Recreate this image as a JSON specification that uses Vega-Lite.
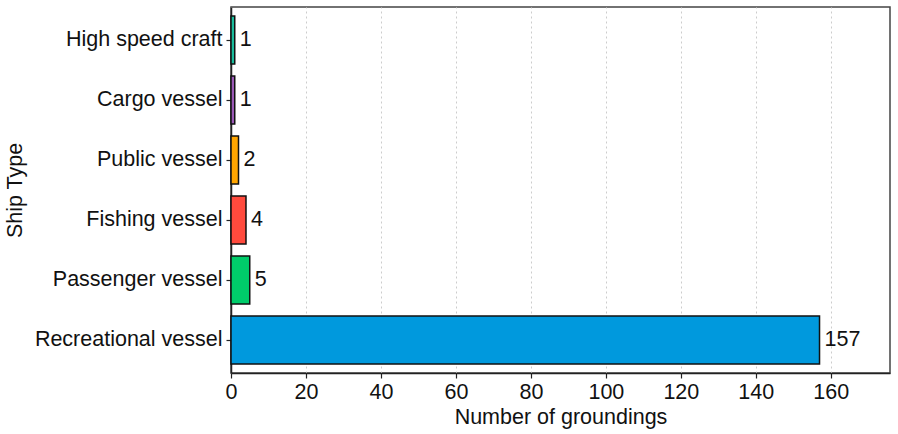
{
  "$schema": "https://vega.github.io/schema/vega-lite/v6.json",
  "width": 659,
  "height": 366,
  "autosize": "none",
  "padding": {"left": 231, "top": 7, "right": 8, "bottom": 61},
  "background": "white",
  "data": {
    "values": [
      {"ShipType": "High speed craft", "Groundings": 1},
      {"ShipType": "Cargo vessel", "Groundings": 1},
      {"ShipType": "Public vessel", "Groundings": 2},
      {"ShipType": "Fishing vessel", "Groundings": 4},
      {"ShipType": "Passenger vessel", "Groundings": 5},
      {"ShipType": "Recreational vessel", "Groundings": 157}
    ]
  },
  "encoding": {
    "y": {
      "field": "ShipType",
      "type": "nominal",
      "sort": null,
      "title": "Ship Type",
      "scale": {"paddingInner": 0.2, "paddingOuter": 0.15},
      "axis": {
        "labelFontSize": 21.5,
        "labelLimit": 300,
        "titleFontSize": 21.5,
        "titleFontWeight": "normal",
        "titlePadding": 8,
        "tickSize": 5,
        "labelPadding": 4,
        "ticks": true
      }
    },
    "x": {
      "field": "Groundings",
      "type": "quantitative",
      "title": "Number of groundings",
      "scale": {"domain": [0, 175.8], "nice": false},
      "axis": {
        "values": [0, 20, 40, 60, 80, 100, 120, 140, 160],
        "labelFontSize": 21.5,
        "titleFontSize": 21.5,
        "titleFontWeight": "normal",
        "titlePadding": 4,
        "tickSize": 5,
        "labelPadding": 3,
        "labelFlush": false,
        "grid": true,
        "gridDash": [2, 3],
        "gridColor": "#cccccc",
        "gridWidth": 1
      }
    }
  },
  "layer": [
    {
      "mark": {"type": "bar", "stroke": "#111111", "strokeWidth": 1.5},
      "encoding": {
        "color": {
          "field": "ShipType",
          "type": "nominal",
          "legend": null,
          "scale": {
            "domain": ["High speed craft", "Cargo vessel", "Public vessel", "Fishing vessel", "Passenger vessel", "Recreational vessel"],
            "range": ["#1abc9c", "#9b59b6", "#ffa500", "#ff4a3d", "#00cc6a", "#0099dd"]
          }
        }
      }
    },
    {
      "mark": {"type": "text", "align": "left", "baseline": "middle", "dx": 5, "fontSize": 21.5, "color": "#111111"},
      "encoding": {
        "text": {"field": "Groundings", "type": "quantitative"}
      }
    }
  ],
  "config": {
    "font": "Liberation Sans",
    "view": {"stroke": "#444444", "strokeWidth": 1.5},
    "axis": {
      "domainColor": "#222222",
      "domainWidth": 1.5,
      "tickColor": "#222222",
      "tickWidth": 1.2,
      "labelColor": "#111111",
      "titleColor": "#111111",
      "labelFont": "Liberation Sans",
      "titleFont": "Liberation Sans"
    },
    "axisY": {"grid": false}
  }
}
